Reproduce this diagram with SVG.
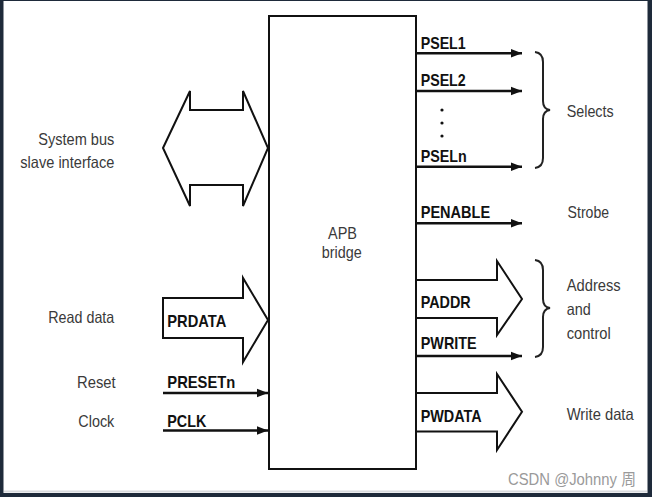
<svg xmlns="http://www.w3.org/2000/svg" width="652" height="497" viewBox="0 0 652 497">
<defs>
<style>
.b{font-family:"Liberation Sans",Arial,sans-serif;font-weight:bold;font-size:17px;fill:#111}
.g{font-family:"Liberation Sans",Arial,sans-serif;font-size:16.5px;fill:#3a3a3a}
.w{font-family:"Liberation Sans","Noto Sans CJK SC",sans-serif;font-size:16px;fill:#9a9a9a}
.ln{stroke:#111;stroke-width:2.4;fill:none}
.fat{stroke:#111;stroke-width:2;fill:#fff;stroke-linejoin:miter}
.br{stroke:#222;stroke-width:2;fill:none}
</style>
<marker id="ah" markerUnits="userSpaceOnUse" markerWidth="12" markerHeight="10" refX="11" refY="5" orient="auto">
<path d="M0,0.8 L11,5 L0,9.2 Z" fill="#111"/>
</marker>
</defs>
<rect x="0" y="0" width="652" height="497" fill="#1e2a3a"/>
<rect x="3.5" y="1" width="644" height="492" fill="#fff"/>
<rect x="4" y="490.5" width="643" height="2" fill="#d8dadd"/>

<g id="connectors">
<path class="fat" d="M163,148 L190,91 L190,110 L243,110 L243,91 L268,148 L243,206 L243,185 L190,185 L190,206 Z"/>
<path class="fat" d="M163,298 L243,298 L243,278 L268,320 L243,362 L243,338 L163,338 Z"/>
<line class="ln" x1="163" y1="393" x2="268" y2="393" marker-end="url(#ah)"/>
<line class="ln" x1="163" y1="430.5" x2="268" y2="430.5" marker-end="url(#ah)"/>
<line class="ln" x1="416" y1="53.3" x2="522" y2="53.3" marker-end="url(#ah)"/>
<line class="ln" x1="416" y1="91" x2="522" y2="91" marker-end="url(#ah)"/>
<line class="ln" x1="416" y1="166.7" x2="522" y2="166.7" marker-end="url(#ah)"/>
<line class="ln" x1="416" y1="223.3" x2="522" y2="223.3" marker-end="url(#ah)"/>
<path class="fat" d="M416,280 L497,280 L497,261 L522,299 L497,335 L497,318 L416,318"/>
<line class="ln" x1="416" y1="356" x2="522" y2="356" marker-end="url(#ah)"/>
<path class="fat" d="M416,393 L497,393 L497,374 L522,411.7 L497,450 L497,431.5 L416,431.5"/>
<circle cx="442" cy="110" r="1.6" fill="#111"/>
<circle cx="442" cy="123" r="1.6" fill="#111"/>
<circle cx="442" cy="136" r="1.6" fill="#111"/>
<path class="br" d="M535,52 Q543,53 543,62 L543,101 Q543,109 550,110 Q543,111 543,119 L543,158 Q543,167 535,168"/>
<path class="br" d="M535,260 Q543,261 543,270 L543,299 Q543,307 550,308 Q543,309 543,317 L543,347 Q543,356 535,357"/>
</g>

<g id="apb-bridge">
<rect x="269" y="16" width="147" height="453" fill="none" stroke="#111" stroke-width="2"/>
<text class="g" x="342.5" y="239" text-anchor="middle" textLength="29" lengthAdjust="spacingAndGlyphs">APB</text>
<text class="g" x="341.7" y="258" text-anchor="middle" textLength="40" lengthAdjust="spacingAndGlyphs">bridge</text>
</g>

<g id="system-bus">
<text class="g" x="114.3" y="145" text-anchor="end" textLength="76" lengthAdjust="spacingAndGlyphs">System bus</text>
<text class="g" x="114.3" y="168" text-anchor="end" textLength="94" lengthAdjust="spacingAndGlyphs">slave interface</text>
</g>
<g id="read-data">
<text class="g" x="114.3" y="323" text-anchor="end" textLength="66" lengthAdjust="spacingAndGlyphs">Read data</text>
<text class="b" x="167.3" y="326.7" textLength="59" lengthAdjust="spacingAndGlyphs">PRDATA</text>
</g>
<g id="reset">
<text class="g" x="115.6" y="388" text-anchor="end" textLength="38.6" lengthAdjust="spacingAndGlyphs">Reset</text>
<text class="b" x="167.3" y="388.3" textLength="68" lengthAdjust="spacingAndGlyphs">PRESETn</text>
</g>
<g id="clock">
<text class="g" x="114.3" y="427" text-anchor="end" textLength="36" lengthAdjust="spacingAndGlyphs">Clock</text>
<text class="b" x="167.3" y="426.7" textLength="39" lengthAdjust="spacingAndGlyphs">PCLK</text>
</g>

<g id="selects">
<text class="b" x="420.7" y="49" textLength="45" lengthAdjust="spacingAndGlyphs">PSEL1</text>
<text class="b" x="420.7" y="85.7" textLength="45" lengthAdjust="spacingAndGlyphs">PSEL2</text>
<text class="b" x="420.7" y="161.7" textLength="46" lengthAdjust="spacingAndGlyphs">PSELn</text>
<text class="g" x="566.7" y="116.7" textLength="47" lengthAdjust="spacingAndGlyphs">Selects</text>
</g>
<g id="strobe">
<text class="b" x="420.7" y="218.3" textLength="69.5" lengthAdjust="spacingAndGlyphs">PENABLE</text>
<text class="g" x="567.6" y="218" textLength="41.5" lengthAdjust="spacingAndGlyphs">Strobe</text>
</g>
<g id="address-control">
<text class="b" x="420.7" y="308.3" textLength="50" lengthAdjust="spacingAndGlyphs">PADDR</text>
<text class="b" x="420.7" y="349" textLength="56" lengthAdjust="spacingAndGlyphs">PWRITE</text>
<text class="g" x="566.7" y="290.7" textLength="54" lengthAdjust="spacingAndGlyphs">Address</text>
<text class="g" x="566.7" y="315" textLength="24" lengthAdjust="spacingAndGlyphs">and</text>
<text class="g" x="566.7" y="339.3" textLength="44" lengthAdjust="spacingAndGlyphs">control</text>
</g>
<g id="write-data">
<text class="b" x="420.7" y="421.7" textLength="61" lengthAdjust="spacingAndGlyphs">PWDATA</text>
<text class="g" x="566.7" y="420" textLength="67" lengthAdjust="spacingAndGlyphs">Write data</text>
</g>

<text class="w" x="508" y="485" textLength="128" lengthAdjust="spacingAndGlyphs">CSDN @Johnny 周</text>
</svg>
